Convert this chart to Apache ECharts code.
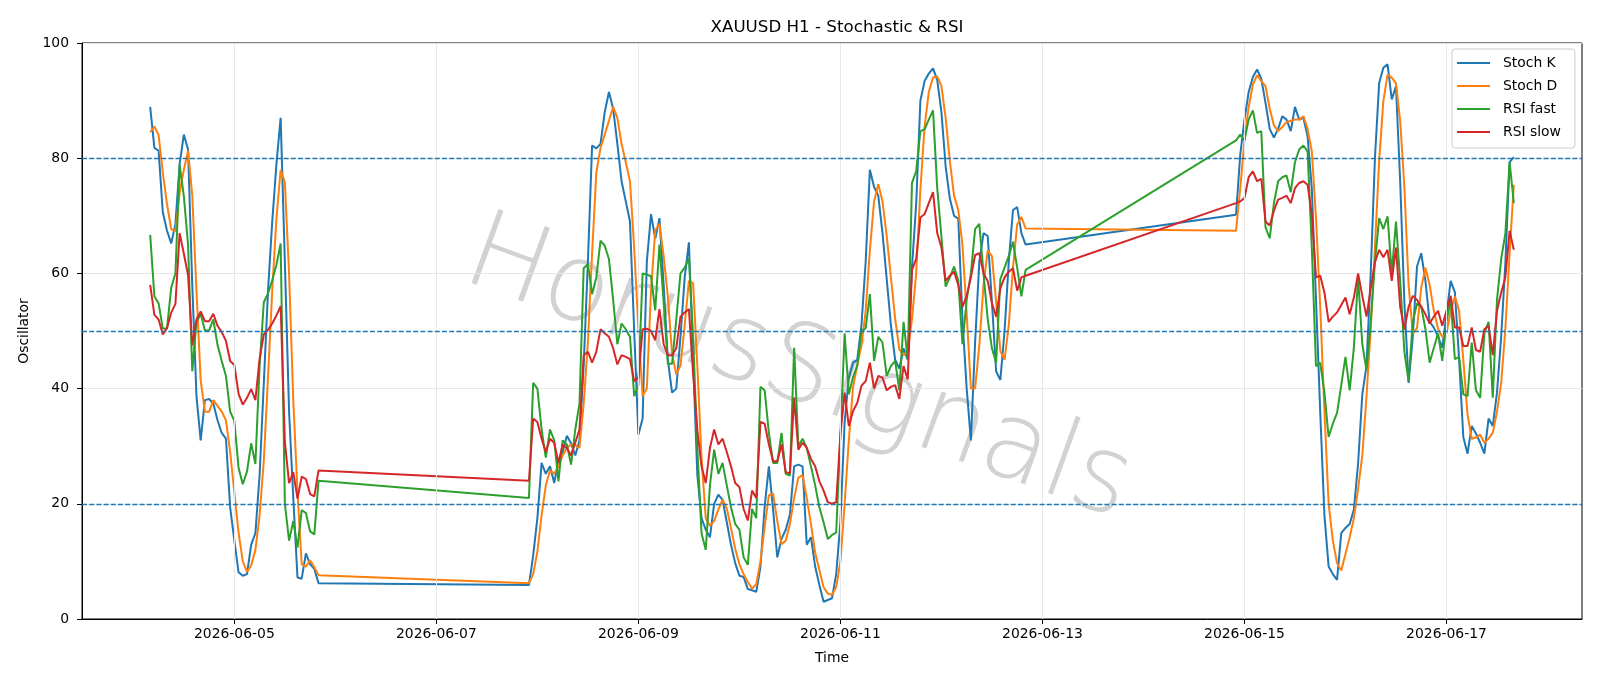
<!DOCTYPE html>
<html>
<head>
<meta charset="utf-8">
<title>XAUUSD H1 - Stochastic & RSI</title>
<script src="https://cdn.jsdelivr.net/npm/echarts@6/dist/echarts.min.js"></script>
<style>
  html, body { margin: 0; padding: 0; background: #fff; }
  #main { width: 1600px; height: 686px; }
</style>
</head>
<body>
<div id="main"></div>
<script>
// trading sessions: first H1 bar (UTC) and number of bars
var sessions = [
  ['2026-06-04T04:00:00Z', 41],
  ['2026-06-07T22:00:00Z', 119],
  ['2026-06-14T22:00:00Z', 67]
];

var stochK = [
  // 06-04 04:00 .. 06-05 20:00
  88.9, 81.8, 81.3, 70.6, 67.4, 65.2, 68.6, 79, 84.1, 81.5,
  58, 38.7, 31, 38, 38.2, 37.4, 34.5, 32.3, 31.3, 19.4,
  13.6, 8.1, 7.5, 7.8, 12.9, 14.9, 25, 41, 57, 69,
  79, 87, 62, 36, 21, 7.2, 7.0, 11.4, 9.5, 8.7, 6.2,
  // 06-07 22:00 .. 06-12 20:00
  5.9, 11, 17.5, 27.1, 25.2, 26.5, 23.6, 27.5, 29, 31.8,
  30.5, 28.4, 31, 44, 62, 82.2, 81.7, 82.5, 88, 91.5,
  88.6, 82.5, 76, 72.5, 69, 50, 32, 34.8, 62, 70.3,
  66, 69.6, 58, 45, 39.3, 40, 49, 59.3, 65.4, 45,
  25, 17.5, 15.5, 14.2, 20, 21.6, 20.7, 16.8, 12.9, 9.7,
  7.5, 7.3, 5.2, 5, 4.7, 9, 19.5, 26.5, 19, 10.7,
  13.9, 15.5, 18.1, 26.5, 26.8, 26.5, 12.9, 14.2, 9.1, 5.9,
  3, 3.3, 3.6, 7.8, 16.8, 34.2, 41.9, 44.5, 45, 51,
  62, 78, 75, 73.5, 67, 59, 51, 45, 43.5, 47,
  45, 61, 72, 90, 93.4, 94.7, 95.6, 93.6, 88, 78.6,
  73, 70, 69.5, 52, 40, 31, 48, 62, 67, 66.5,
  55, 43, 41.5, 50, 62, 71, 71.5, 67, 65,
  // 06-14 22:00 .. 06-17 16:00
  70.2, 80.6, 86.7, 91.5, 94.1, 95.4, 93.8, 89.6, 85.1, 83.6,
  85.1, 87.3, 86.7, 84.7, 88.9, 86.7, 87, 83.8, 74.8, 55.4,
  36, 18, 9.1, 7.8, 6.8, 14.9, 15.8, 16.5, 19, 27,
  39, 44, 60, 80, 93, 95.7, 96.3, 90.2, 92.5, 76,
  55, 41, 49, 61.2, 63.5, 58.7, 51.6, 50.6, 49, 47.1,
  52.9, 58.7, 56.7, 45.1, 31.6, 28.7, 33.5, 32.2, 30.6, 28.7,
  34.8, 33.5, 39.3, 49, 61.9, 79.3, 80.2
];

var stochD = [
  84.5, 85.5, 84, 77.5, 72, 67.7, 67.3, 74, 78, 81.3,
  73.5, 57, 41.4, 36, 36, 38, 37, 36, 34.5, 29,
  22, 15, 10, 8.2, 9.3, 12, 18, 27.5, 42, 57,
  69.5, 78, 75.8, 60, 38, 22, 9.5, 9.1, 10.2, 9, 7.6,

  6.2, 7.8, 11.7, 18, 23.2, 25.8, 25.2, 26.5, 28.4, 29.7,
  30.3, 30.2, 29.7, 37.4, 48, 63.5, 77.5, 81.8, 84.1, 86.5,
  88.9, 87, 82.5, 79.3, 76, 64.5, 50.3, 38.7, 40, 57,
  67.5, 68.6, 63, 56, 46, 42.5, 44, 51, 58.7, 58.3,
  44, 28, 17.5, 16.2, 17, 19, 20.7, 19.2, 15.8, 12.2,
  9.5, 7.8, 6.4, 5.3, 6, 10, 16, 21.5, 21.8, 17,
  13, 13.6, 16.5, 21, 24.5, 25, 21, 16.5, 11.5, 8.5,
  5.5, 4.4, 4.2, 5.5, 10, 20, 31, 40.3, 44, 47.5,
  53.5, 64, 72.5, 75.5, 72.5, 66.5, 59.3, 52.2, 46.8, 45.8,
  46.5, 52, 60, 74.5, 85.5, 91.5, 94, 94.2, 92.5, 87,
  79.5, 73.5, 71, 65, 53, 40, 40, 47.5, 58, 64,
  63, 55, 46.5, 45, 51, 61, 68.5, 69.8, 67.8,

  67.4, 74.8, 83.1, 88.9, 92.8, 94.4, 93.4, 92.5, 88.6, 85.7,
  84.7, 85.4, 86.3, 86.5, 86.7, 86.7, 87.3, 85.1, 81.2, 69.6,
  54.2, 36.1, 20, 13.6, 9.7, 8.4, 11.3, 14.2, 17.5, 22.6,
  28.4, 38.7, 50.3, 64.5, 79.5, 89.9, 94.5, 94, 93, 86.5,
  75, 58, 49.5, 50.5, 57.5, 61, 58, 53.5, 50.4, 49,
  49.6, 53.5, 56, 53.5, 45, 35.5, 31.3, 31.5, 32, 30.6,
  31.3, 32.3, 36, 41, 50.5, 63.5, 75.4
];

var rsiFast = [
  66.7, 56, 54.8, 50.4, 50.5, 57.5, 60, 78.8, 73.4, 65,
  43, 51.5, 53, 50.1, 50.1, 52, 47.6, 44.8, 42.2, 36,
  34.4, 26.2, 23.4, 25.6, 30.5, 26.9, 44, 55, 56.5, 58.8,
  61.5, 65.2, 20, 13.6, 17, 12.4, 18.9, 18.4, 15.2, 14.7, 24,

  21, 41, 40, 32.9, 28, 32.9, 31, 23.9, 31, 30.3,
  26.8, 32.9, 37.4, 60.9, 61.6, 56.4, 59.3, 65.7, 64.8, 62.5,
  55.4, 47.7, 51.3, 50.3, 49, 38.7, 40.6, 60, 59.8, 59.5,
  53.6, 65, 55, 44.3, 44.3, 52, 60, 61, 62.6, 49,
  29.7, 14.9, 12, 23.2, 29.4, 25.2, 27.1, 23.2, 19.4, 16.5,
  15.5, 10.7, 9.4, 19.1, 17.5, 40.3, 39.7, 32.3, 27.1, 27.1,
  32.3, 25.2, 24.9, 47.1, 30, 31.3, 29.7, 26.5, 23.2, 19.4,
  16.8, 13.9, 14.6, 15, 32, 49.6, 39, 42, 44, 50,
  50.5, 56.4, 44.8, 49, 48, 42.2, 43.9, 44.8, 39.7, 51.6,
  45.1, 75.7, 77.7, 84.7, 85, 86.7, 88.3, 74.8, 66.4, 57.7,
  59.3, 61.2, 58.7, 47.7, 55.4, 60, 67.7, 68.6, 60, 52,
  47, 44.5, 59, 61, 63, 65.5, 61, 56, 60.6,

  83.1, 84.1, 83.1, 86.7, 88.3, 84.4, 84.7, 68, 66.1, 72.2,
  76, 76.7, 77, 74.1, 79.3, 81.5, 82.2, 81.2, 64.5, 43.9,
  44.5, 39.3, 31.6, 33.9, 35.8, 40.6, 45.5, 39.7, 47.1, 59.3,
  47.7, 43.2, 51.6, 61.9, 69.6, 67.7, 69.9, 60, 69, 58.7,
  46.4, 41.3, 51.6, 54.8, 54.2, 50.3, 44.5, 47.1, 49.6, 44.8,
  51.6, 55.4, 45.1, 45.5, 39, 38.7, 48, 39.7, 38.4, 49.6,
  51.6, 38.4, 55.4, 62.5, 67, 79.3, 72.2
];

var rsiSlow = [
  58, 52.8, 52, 49.4, 50.5, 53.2, 54.7, 67, 63.4, 59.7,
  47.5, 52, 53.4, 51.7, 51.7, 53, 50.9, 49.8, 48.3, 44.8,
  44.1, 39.1, 37.2, 38.4, 39.9, 38, 45.2, 49.4, 50.2, 51.3,
  52.7, 54.3, 30.8, 23.6, 25.5, 20.9, 24.7, 24.3, 21.7, 21.3, 25.8,

  24, 34.8, 34.2, 31.3, 29, 31.3, 30.6, 27.1, 30.3, 29.7,
  28.4, 30.6, 32.9, 45.8, 46.4, 44.5, 46.4, 50.3, 49.6, 49,
  47, 44.2, 45.8, 45.5, 45.1, 41.3, 41.9, 50.3, 50.4, 50,
  48.4, 53.8, 47.7, 45.8, 45.8, 47, 52.5, 53.2, 53.8, 42.6,
  32.9, 26.5, 23.6, 29.7, 32.9, 30.3, 31.3, 29, 26.5, 23.6,
  22.9, 19.1, 17.1, 22.3, 21, 34.2, 33.9, 30.3, 27.4, 27.4,
  30.3, 25.5, 25.3, 38.4, 29.4, 30.6, 29.7, 27.8, 26.5, 23.9,
  22.3, 20.3, 20, 20.3, 32, 39.3, 33.5, 36.1, 37.5, 40.5,
  41.3, 44.5, 40, 42.2, 41.9, 39.7, 40.3, 40.6, 38.2, 43.9,
  41.6, 60.6, 62.5, 69.7, 70.3, 72.2, 74.1, 67, 64.5, 58.7,
  59.6, 60.3, 58, 54.2, 56.1, 59.3, 63.2, 63.5, 60, 58.7,
  54.8, 52.5, 57.4, 59.3, 60.3, 60.9, 57, 59.3, 59.6,

  72.2, 72.5, 73.1, 76.7, 77.7, 76, 76.4, 69, 68.3, 70.9,
  72.8, 73.1, 73.5, 72.2, 74.8, 75.7, 76, 75.4, 70.3, 59.3,
  59.6, 56.7, 51.6, 52.5, 53.2, 54.5, 55.8, 52.9, 55.8, 60,
  56.1, 52.5, 57.4, 61.9, 64.1, 62.8, 64.1, 58.7, 64.5, 54.2,
  50.3, 54.2, 56.1, 55.4, 54.2, 52.9, 51.3, 52.5, 53.5, 50.9,
  53.5, 56.1, 50.6, 50.6, 47.4, 47.4, 50.6, 46.7, 46.4, 50.3,
  50.9, 45.8, 53.5, 56.7, 59.3, 67.4, 64.1
];

var dateTicks = ['2026-06-05', '2026-06-07', '2026-06-09', '2026-06-11',
                 '2026-06-13', '2026-06-15', '2026-06-17'];
var levels = [20, 50, 80];

var HOUR = 3600 * 1000;
var times = [];
sessions.forEach(function (s) {
  var t0 = Date.parse(s[0]);
  for (var i = 0; i < s[1]; i++) times.push(t0 + i * HOUR);
});

function pairs(vals) {
  return vals.map(function (v, i) { return [times[i], v]; });
}

var tickValues = dateTicks.map(function (d) { return Date.parse(d + 'T00:00:00Z'); });

function line(name, color, vals) {
  return {
    name: name,
    type: 'line',
    data: pairs(vals),
    showSymbol: false,
    symbol: 'none',
    lineStyle: { color: color, width: 2 },
    itemStyle: { color: color },
    z: 2
  };
}

var chart = echarts.init(document.getElementById('main'), null, { renderer: 'canvas' });

var option = {
  animation: false,
  backgroundColor: '#ffffff',
  textStyle: { fontFamily: 'DejaVu Sans' },
  title: {
    text: 'XAUUSD H1 - Stochastic & RSI',
    left: 832,
    textAlign: 'center',
    top: 14,
    textStyle: { fontSize: 16.7, fontWeight: 'normal', color: '#000', fontFamily: 'DejaVu Sans' }
  },
  grid: {
    left: 82, right: 18, top: 43, bottom: 67,
    show: true, borderColor: '#000', borderWidth: 1,
    containLabel: false, outerBoundsMode: 'none'
  },
  legend: {
    data: ['Stoch K', 'Stoch D', 'RSI fast', 'RSI slow'],
    orient: 'vertical',
    left: 1452,
    top: 49,
    padding: [7, 14, 9, 5],
    itemWidth: 33,
    itemHeight: 2,
    itemGap: 9,
    icon: 'rect',
    selectedMode: false,
    backgroundColor: 'rgba(255,255,255,0.8)',
    borderColor: '#cccccc',
    borderWidth: 1,
    borderRadius: 3,
    textStyle: { fontSize: 13.9, color: '#000', fontFamily: 'DejaVu Sans', padding: [0, 0, 0, 8] }
  },
  xAxis: {
    type: 'value',
    min: Date.parse('2026-06-03T11:48:00Z'),
    max: Date.parse('2026-06-18T08:12:00Z'),
    name: 'Time',
    nameLocation: 'middle',
    nameGap: 32,
    nameTextStyle: { color: '#000', fontSize: 13.9 },
    axisLine: { show: true, lineStyle: { color: '#000', width: 1 } },
    axisTick: { show: true, length: 5, customValues: tickValues, lineStyle: { color: '#000' } },
    axisLabel: {
      customValues: tickValues,
      color: '#000', fontSize: 13.9, margin: 8,
      formatter: function (v) { return new Date(v).toISOString().slice(0, 10); }
    },
    splitLine: { show: false }
  },
  yAxis: {
    type: 'value',
    min: 0, max: 100, interval: 20,
    name: 'Oscillator',
    nameLocation: 'middle',
    nameGap: 46,
    nameTextStyle: { color: '#000', fontSize: 13.9 },
    axisLine: { show: true, lineStyle: { color: '#000', width: 1 } },
    axisTick: { show: true, length: 5, lineStyle: { color: '#000' } },
    axisLabel: { color: '#000', fontSize: 13.9, margin: 13 },
    splitLine: { show: true, lineStyle: { color: '#e7e7e7', width: 1 } }
  },
  graphic: [{
    type: 'text',
    x: 798, y: 372,
    rotation: -20 * Math.PI / 180,
    z: -10,
    silent: true,
    style: {
      text: 'HorusSignals',
      fontSize: 108,
      fontFamily: 'DejaVu Sans',
      fontWeight: 200,
      fill: '#d2d2d2',
      align: 'center',
      verticalAlign: 'middle',
      shadowColor: 'rgba(0,0,0,0.45)',
      shadowOffsetX: 3,
      shadowOffsetY: 3,
      shadowBlur: 2
    }
  }],
  series: [
    {
      type: 'line', data: [], z: 1, silent: true,
      markLine: {
        silent: true, symbol: ['none', 'none'], label: { show: false },
        lineStyle: { color: '#e7e7e7', width: 1, type: 'solid' },
        data: tickValues.map(function (v) { return { xAxis: v }; })
      }
    },
    line('Stoch K', '#1f77b4', stochK),
    line('Stoch D', '#ff7f0e', stochD),
    line('RSI fast', '#2ca02c', rsiFast),
    line('RSI slow', '#d62728', rsiSlow),
    {
      type: 'line', data: [], z: 3, silent: true,
      markLine: {
        silent: true, symbol: ['none', 'none'], label: { show: false },
        lineStyle: { color: '#1f77b4', width: 1.4, type: [5, 2.2] },
        data: levels.map(function (v) { return { yAxis: v }; })
      }
    }
  ]
};

chart.setOption(option);
</script>
</body>
</html>
